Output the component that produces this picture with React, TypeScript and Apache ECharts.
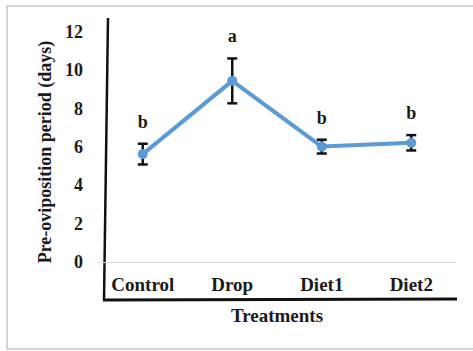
import React, { useEffect, useRef } from "react";
import * as echarts from "echarts";

const categories = ["Control", "Drop", "Diet1", "Diet2"];
const means = [5.63, 9.45, 6.02, 6.22];
const errors = [0.54, 1.17, 0.36, 0.4];
const letters = ["b", "a", "b", "b"];
const yMin = 0;
const yMax = 12;
const yInterval = 2;
const yAxisTitle = "Pre-oviposition period (days)";
const xAxisTitle = "Treatments";

const FONT = "'Liberation Serif', 'Times New Roman', serif";

export default function App() {
  const ref = useRef<HTMLDivElement>(null);
  useEffect(() => {
    if (!ref.current) return;
    const chart = echarts.init(ref.current, undefined, { renderer: "svg" });
    const errData = categories.map((c, i) => [i, means[i], errors[i]]);
    chart.setOption({
      animation: false,
      backgroundColor: "#ffffff",
      grid: { left: 98, right: 17, top: 32, bottom: 89 },
      xAxis: {
        type: "category",
        data: categories,
        boundaryGap: true,
        axisLine: { show: true, lineStyle: { color: "#d9d9d9", width: 1 } },
        axisTick: { show: false },
        axisLabel: {
          margin: 13,
          fontFamily: FONT,
          fontWeight: "bold",
          fontSize: 19,
          color: "#1a1a1a",
        },
        name: xAxisTitle,
        nameLocation: "middle",
        nameGap: 44,
        nameTextStyle: {
          fontFamily: FONT,
          fontWeight: "bold",
          fontSize: 19,
          color: "#1a1a1a",
        },
      },
      yAxis: {
        type: "value",
        min: yMin,
        max: yMax,
        interval: yInterval,
        axisLine: { show: false },
        axisTick: { show: false },
        splitLine: { show: false },
        axisLabel: {
          margin: 15,
          fontFamily: FONT,
          fontWeight: "bold",
          fontSize: 18,
          color: "#1a1a1a",
        },
        name: yAxisTitle,
        nameLocation: "middle",
        nameGap: 43,
        nameRotate: 90,
        nameTextStyle: {
          fontFamily: FONT,
          fontWeight: "bold",
          fontSize: 18,
          color: "#1a1a1a",
          padding: [0, 10, 0, 0],
        },
      },
      graphic: [
        {
          type: "rect",
          shape: { x: 7, y: 6, width: 480, height: 343 },
          style: { fill: "none", stroke: "#c8c8c8", lineWidth: 1.5 },
          silent: true,
        },
        {
          type: "line",
          shape: { x1: 108, y1: 18, x2: 104, y2: 300 },
          style: { stroke: "#111111", lineWidth: 2.5 },
          silent: true,
        },
        {
          type: "line",
          shape: { x1: 103, y1: 300, x2: 457, y2: 299 },
          style: { stroke: "#111111", lineWidth: 3 },
          silent: true,
        },
      ],
      series: [
        {
          type: "custom",
          z: 1,
          data: errData,
          renderItem: (params: any, api: any) => {
            const x = api.value(0);
            const m = api.value(1);
            const e = api.value(2);
            const top = api.coord([x, m + e]);
            const bot = api.coord([x, m - e]);
            const cw = 5;
            const st = { stroke: "#111111", lineWidth: 2.5 };
            return {
              type: "group",
              children: [
                { type: "line", shape: { x1: top[0], y1: top[1], x2: bot[0], y2: bot[1] }, style: st },
                { type: "line", shape: { x1: top[0] - cw, y1: top[1], x2: top[0] + cw, y2: top[1] }, style: st },
                { type: "line", shape: { x1: bot[0] - cw, y1: bot[1], x2: bot[0] + cw, y2: bot[1] }, style: st },
                {
                  type: "text",
                  x: top[0],
                  y: top[1] - 22,
                  style: {
                    text: letters[params.dataIndex],
                    textAlign: "center",
                    textVerticalAlign: "middle",
                    fontFamily: FONT,
                    fontWeight: "bold",
                    fontSize: 18,
                    fill: "#1a1a1a",
                  },
                },
              ],
            };
          },
        },
        {
          type: "line",
          z: 3,
          data: means,
          symbol: "circle",
          symbolSize: 10,
          lineStyle: { color: "#5b9bd5", width: 4 },
          itemStyle: { color: "#5b9bd5" },
        },
      ],
    });
    return () => chart.dispose();
  }, []);
  return (
    <div
      ref={ref}
      style={{ position: "fixed", left: 0, top: 0, width: 473, height: 351 }}
    />
  );
}
